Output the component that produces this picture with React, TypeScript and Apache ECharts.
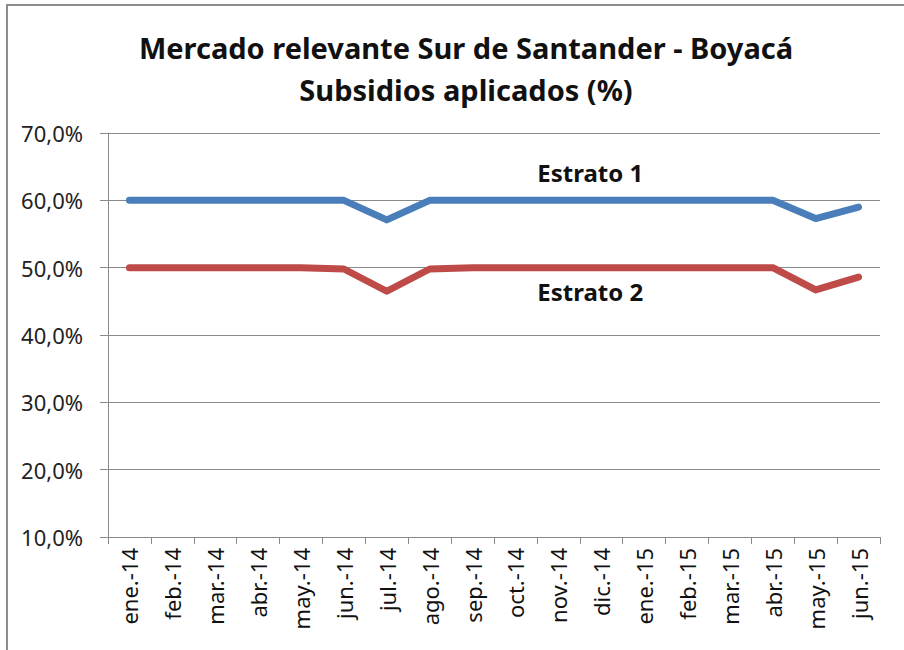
import React, { useEffect, useRef } from "react";
import * as echarts from "echarts";

const categories = [
  "ene.-14", "feb.-14", "mar.-14", "abr.-14", "may.-14", "jun.-14",
  "jul.-14", "ago.-14", "sep.-14", "oct.-14", "nov.-14", "dic.-14",
  "ene.-15", "feb.-15", "mar.-15", "abr.-15", "may.-15", "jun.-15",
];
const estrato1 = [60, 60, 60, 60, 60, 60, 57.1, 60, 60, 60, 60, 60, 60, 60, 60, 60, 57.3, 59.0];
const estrato2 = [50, 50, 50, 50, 50, 49.8, 46.5, 49.8, 50, 50, 50, 50, 50, 50, 50, 50, 46.7, 48.6];
const seriesNames = ["Estrato 1", "Estrato 2"];
const titleText = "Mercado relevante Sur de Santander - Boyacá\nSubsidios aplicados (%)";
const labelIndex = 11;

const FONT = "'Noto Sans', sans-serif";

export default function App() {
  const ref = useRef<HTMLDivElement>(null);
  useEffect(() => {
    if (!ref.current) return;
    const chart = echarts.init(ref.current, null, { renderer: "svg" });
    const mk = (vals: number[], name: string, pos: "top" | "bottom") =>
      vals.map((v, i) =>
        i === labelIndex
          ? {
              value: v,
              label: {
                show: true,
                position: pos,
                distance: pos === "top" ? 16 : 12,
                offset: [-11, 0],
                formatter: name,
                fontFamily: FONT,
                fontWeight: "bold",
                fontSize: 24,
                color: "#111",
              },
            }
          : v
      );
    chart.setOption({
      animation: false,
      backgroundColor: "#fff",
      title: {
        text: titleText,
        left: 461,
        top: 21,
        textAlign: "center",
        textStyle: {
          fontFamily: FONT,
          fontWeight: "bold",
          fontSize: 29,
          lineHeight: 42,
          color: "#111",
        },
      },
      graphic: [
        {
          type: "rect",
          shape: { x: 7, y: 5, width: 1000, height: 1000 },
          style: { fill: "none", stroke: "#8c8c8c", lineWidth: 2 },
          silent: true,
        },
      ],
      grid: { left: 108, right: 24, top: 133, bottom: 113, containLabel: false },
      xAxis: {
        type: "category",
        data: categories,
        boundaryGap: true,
        axisLine: { show: true, lineStyle: { color: "#8a8a8a", width: 1 } },
        axisTick: { show: true, length: 7, alignWithLabel: false, lineStyle: { color: "#8a8a8a" } },
        axisLabel: {
          rotate: 90,
          margin: 11,
          interval: 0,
          fontFamily: FONT,
          fontSize: 22,
          color: "#111",
        },
        splitLine: { show: false },
      },
      yAxis: {
        type: "value",
        min: 10,
        max: 70,
        interval: 10,
        axisLine: { show: true, lineStyle: { color: "#8a8a8a", width: 1 } },
        axisTick: { show: true, length: 8, lineStyle: { color: "#8a8a8a" } },
        axisLabel: {
          margin: 25,
          fontFamily: FONT,
          fontSize: 22,
          color: "#222",
          formatter: (v: number) => v.toFixed(1).replace(".", ",") + "%",
        },
        splitLine: { show: true, lineStyle: { color: "#8a8a8a", width: 1 } },
      },
      series: [
        {
          name: seriesNames[0],
          type: "line",
          data: mk(estrato1, seriesNames[0], "top"),
          symbol: "circle",
          symbolSize: 0,
          showSymbol: true,
          smooth: false,
          lineStyle: { color: "#4a7ebb", width: 7, cap: "round", join: "round" },
          itemStyle: { color: "#4a7ebb" },
        },
        {
          name: seriesNames[1],
          type: "line",
          data: mk(estrato2, seriesNames[1], "bottom"),
          symbol: "circle",
          symbolSize: 0,
          showSymbol: true,
          smooth: false,
          lineStyle: { color: "#be4b48", width: 7, cap: "round", join: "round" },
          itemStyle: { color: "#be4b48" },
        },
      ],
    });
    return () => chart.dispose();
  }, []);
  return (
    <div
      ref={ref}
      style={{ position: "absolute", left: 0, top: 0, width: 904, height: 650 }}
    />
  );
}
